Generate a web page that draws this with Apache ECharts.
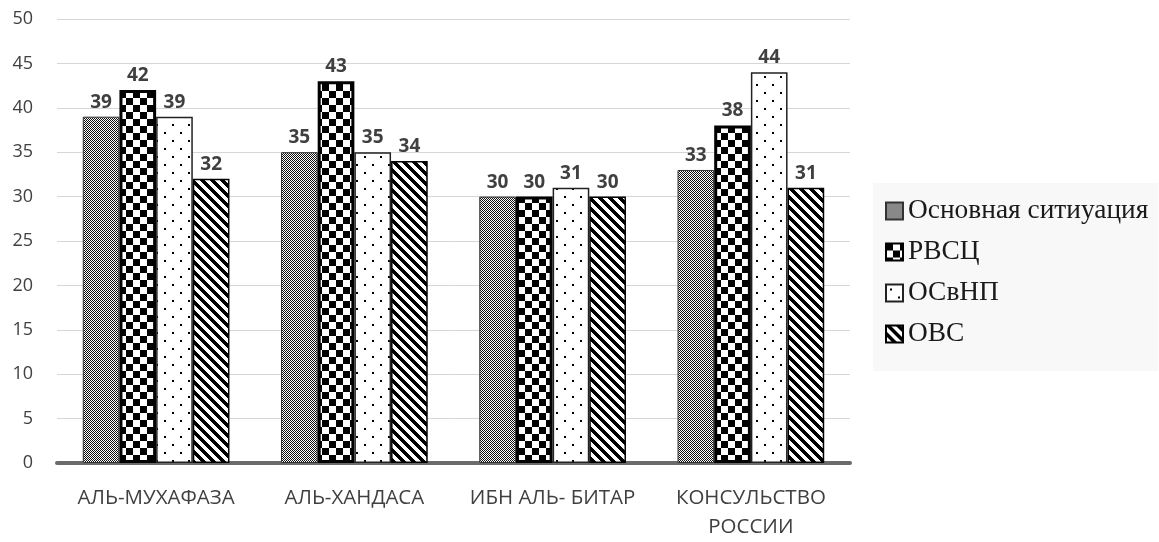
<!DOCTYPE html>
<html><head><meta charset="utf-8">
<script src="https://cdn.jsdelivr.net/npm/echarts@6/dist/echarts.min.js"></script>
<style>html,body{margin:0;padding:0;background:#fff}#c{width:1159px;height:542px}</style>
</head><body><div id="c"></div>
<script>
var categories = ['АЛЬ-МУХАФАЗА', 'АЛЬ-ХАНДАСА', 'ИБН АЛЬ- БИТАР', 'КОНСУЛЬСТВО\nРОССИИ'];
var seriesNames = ['Основная ситиуация', 'РВСЦ', 'ОСвНП', 'ОВС'];
var baseValues = [39, 35, 30, 33];
var rvscValues = [42, 43, 30, 38];
var osvnpValues = [39, 35, 31, 44];
var ovsValues = [32, 34, 30, 31];
var yTicks = {min: 0, max: 50, interval: 5};

function makeTile(w, h, fn) {
  var c = document.createElement('canvas');
  c.width = w; c.height = h;
  var ctx = c.getContext('2d');
  ctx.fillStyle = '#fff'; ctx.fillRect(0, 0, w, h);
  ctx.fillStyle = '#000';
  fn(ctx, w, h);
  return c;
}
var pSmallChecker = makeTile(4, 4, function (ctx) {
  ctx.fillStyle = '#111';
  for (var y = 0; y < 4; y++) for (var x = 0; x < 4; x++) if ((x + y) % 2 === 0) ctx.fillRect(x, y, 1, 1);
});
var pBigChecker = makeTile(14, 14, function (ctx) {
  ctx.fillRect(0, 0, 7, 7); ctx.fillRect(7, 7, 7, 7);
});
var pDots = makeTile(16, 16, function (ctx) {
  ctx.fillRect(4, 4, 2, 2); ctx.fillRect(12, 12, 2, 2);
});
var pStripes = makeTile(10, 10, function (ctx) {
  for (var y = 0; y < 10; y++) for (var x = 0; x < 10; x++) {
    if (((x - y) % 10 + 10) % 10 < 5) ctx.fillRect(x, y, 1, 1);
  }
});
function pat(c) { return {image: c, repeat: 'repeat'}; }

var labelStyle = {show: true, position: 'top', distance: 5, color: '#404040', fontFamily: 'Open Sans', fontWeight: 'bold', fontSize: 19};
var styles = [
  {color: pat(pSmallChecker), borderColor: '#333', borderWidth: 1},
  {color: pat(pBigChecker), borderColor: '#000', borderWidth: 3},
  {color: pat(pDots), borderColor: '#222', borderWidth: 1.5},
  {color: pat(pStripes), borderColor: '#000', borderWidth: 1.5}
];
var allValues = [baseValues, rvscValues, osvnpValues, ovsValues];

var chart = echarts.init(document.getElementById('c'), null, {renderer: 'canvas'});
chart.setOption({
  animation: false,
  backgroundColor: '#fff',
  grid: {left: 57, right: 309, top: 19, bottom: 75, containLabel: false},
  legend: {
    orient: 'vertical', left: 873, top: 183,
    backgroundColor: '#f8f8f8',
    padding: [13, 10, 22, 12],
    icon: 'rect',
    itemWidth: 17, itemHeight: 17, itemGap: 11,
    textStyle: {fontFamily: 'Liberation Serif', fontSize: 27.4, lineHeight: 30, color: '#1a1a1a'},
    data: seriesNames
  },
  xAxis: {
    type: 'category', data: categories,
    axisLine: {lineStyle: {color: '#6b6b6b', width: 4}},
    axisTick: {show: false},
    axisLabel: {color: '#404040', fontFamily: 'Open Sans', fontSize: 20.5, margin: 21, lineHeight: 29, interval: 0}
  },
  yAxis: {
    type: 'value', min: yTicks.min, max: yTicks.max, interval: yTicks.interval,
    axisLine: {show: false}, axisTick: {show: false},
    splitLine: {lineStyle: {color: '#d6d6d6', width: 1}},
    axisLabel: {color: '#404040', fontFamily: 'Open Sans', fontSize: 18, margin: 24}
  },
  series: seriesNames.map(function (n, i) {
    return {
      name: n, type: 'bar', data: allValues[i],
      barGap: '0%', barCategoryGap: '26%',
      itemStyle: styles[i],
      label: labelStyle
    };
  })
});
</script></body></html>
